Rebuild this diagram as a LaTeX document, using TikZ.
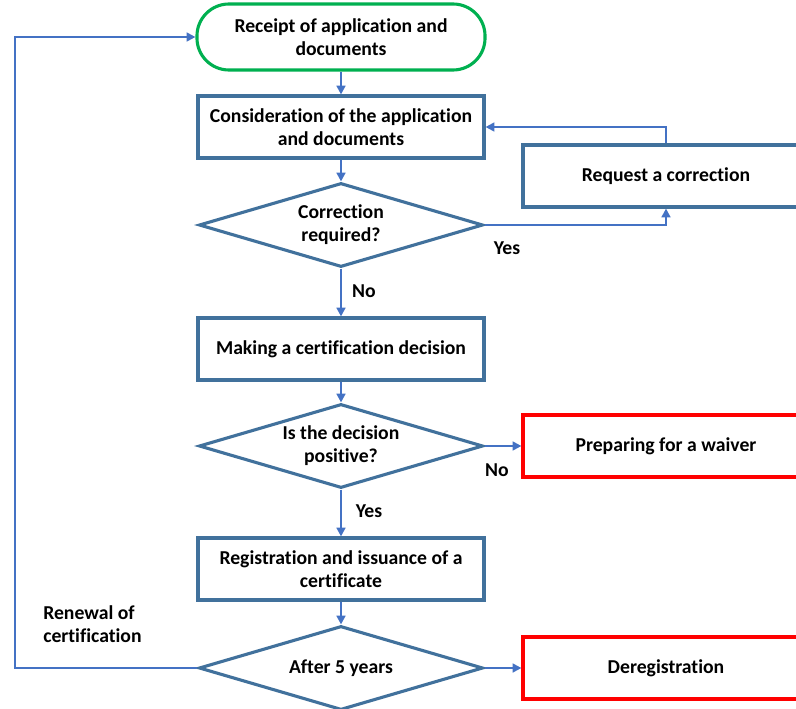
\documentclass[tikz,border=0pt]{standalone}
\usepackage{fontspec}
\setmainfont[Ligatures=NoCommon]{Carlito}
\definecolor{BoxBlue}{HTML}{41719C}
\definecolor{ArrowBlue}{HTML}{4472C4}
\definecolor{StartGreen}{HTML}{00B050}
\definecolor{StopRed}{HTML}{FF0000}
\usetikzlibrary{shapes.geometric, arrows.meta, positioning}

\begin{document}
\begin{tikzpicture}[
  x=0.025cm, y=-0.025cm,
  % Start (abgerundet, grün)
  startbox/.style={
    draw=StartGreen,
    line width=2.2pt,
    rounded corners=0.8cm,
    minimum width=7.2cm,
    minimum height=1.65cm,
    align=center,
    font=\fontsize{14}{16.3}\selectfont\bfseries,
    inner sep=0pt
  },
  % Prozessschritt
  procbox/.style={
    draw=BoxBlue,
    line width=2.2pt,
    minimum width=7.15cm,
    minimum height=1.55cm,
    align=center,
    font=\fontsize{14}{16.3}\selectfont\bfseries,
    inner sep=0pt
  },
  % Endzustand (rot)
  endbox/.style={
    procbox,
    draw=StopRed
  },
  % Entscheidung
  decision/.style={
    diamond,
    draw=BoxBlue,
    line width=2.2pt,
    aspect=3.4,
    minimum width=7.1cm,
    minimum height=2.1cm,
    align=center,
    font=\fontsize{14}{16.3}\selectfont\bfseries,
    inner sep=0pt
  },
  % Pfeil
  flow/.style={
    draw=ArrowBlue,
    line width=1.5pt,
    -{Triangle[length=0.22cm,width=0.22cm]}
  },
  % Beschriftung
  lbl/.style={
    font=\fontsize{14}{16.3}\selectfont\bfseries,
    align=left,
    inner sep=0pt
  }
]

% =============================================================================
% RAHMEN
% =============================================================================
\useasboundingbox (0,0) rectangle (796,709);
\clip (0,0) rectangle (796,709);
\fill[white] (0,0) rectangle (796,709);

% =============================================================================
% KNOTEN
% =============================================================================
\node[startbox] (start) at (341,37) {Receipt of application and\\documents};
\node[procbox] (consider) at (341,127) {Consideration of the application\\and documents};
\node[decision] (correct) at (341,225) {Correction\\required?};
\node[procbox] (request) at (666,176) {Request a correction};
\node[procbox] (decide) at (341,349) {Making a certification decision};
\node[decision] (positive) at (341,446) {Is the decision\\positive?};
\node[endbox] (waiver) at (666,446) {Preparing for a waiver};
\node[procbox] (register) at (341,569) {Registration and issuance of a\\certificate};
\node[decision] (after) at (341,668) {After 5 years};
\node[endbox] (dereg) at (666,668) {Deregistration};

\coordinate (loop) at (15,37);

% =============================================================================
% PFEILE
% =============================================================================
\draw[flow] (start) -- (consider);
\draw[flow] (consider) -- (correct);
\draw[flow] (correct.east) -| (request.south);
\draw[flow] (request.north) |- (consider.east);
\draw[flow] (correct) -- (decide);
\draw[flow] (decide) -- (positive);
\draw[flow] (positive.east) -- (waiver.west);
\draw[flow] (positive) -- (register);
\draw[flow] (register) -- (after);
\draw[flow] (after.east) -- (dereg.west);
\draw[flow] (after.west) -| (loop) -- (start.west);

% =============================================================================
% BESCHRIFTUNGEN
% =============================================================================
\node[lbl] (yes1) at (507,248) {Yes};
\node[lbl] (no1) at (364,291) {No};
\node[lbl] (no2) at (497,470) {No};
\node[lbl] (yes2) at (369,511) {Yes};
\node[lbl, anchor=west] (renew) at (43,624) {Renewal of\\certification};

\end{tikzpicture}
\end{document}
